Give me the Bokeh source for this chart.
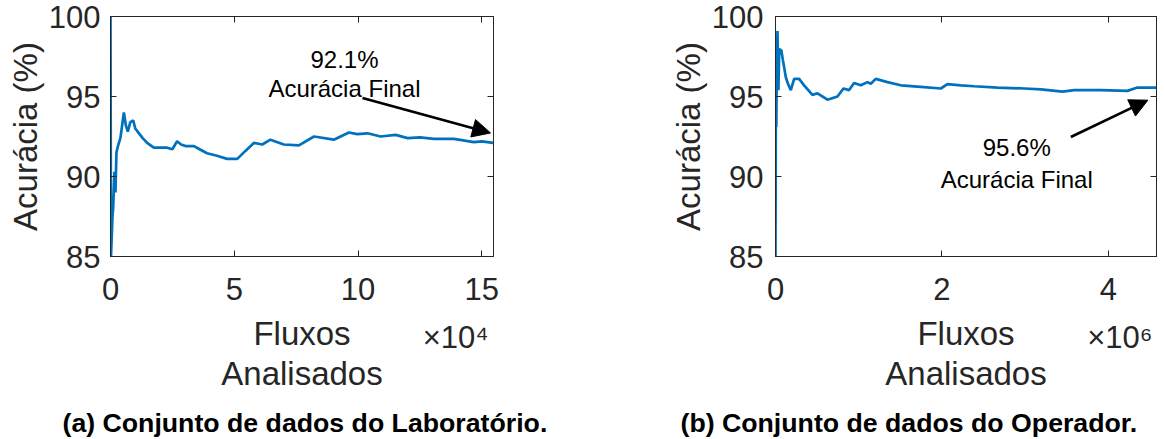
from bokeh.plotting import figure
from bokeh.models import (Range1d, FixedTicker, LinearAxis, Label, Arrow,
                          NormalHead, Title, CustomJSTickFormatter)
from bokeh.layouts import row
from bokeh.embed import file_html
from bokeh.resources import INLINE

# ---- data ----
# (a) Laboratório: fluxos analisados (x10^4) vs acurácia (%)
lab_x = [0, 0.02, 0.08, 0.11, 0.16, 0.2, 0.24, 0.3, 0.4, 0.54,
         0.62, 0.7, 0.8, 0.92, 1.0, 1.15, 1.3, 1.48, 1.75, 2.0,
         2.29, 2.5, 2.69, 2.85, 3.03, 3.37, 3.6, 3.9, 4.3, 4.71,
         5.12, 5.45, 5.79, 6.13, 6.46, 7.0, 7.61, 8.22, 9.02, 9.63,
         9.97, 10.38, 10.91, 11.52, 12.0, 12.5, 13.06, 13.87, 14.68, 15.0,
         15.45]
lab_y = [100, 85, 87.5, 88.1, 90.3, 89.0, 91.5, 91.9, 92.4, 94.0,
         93.2, 92.8, 93.4, 93.5, 93.0, 92.7, 92.4, 92.1, 91.8, 91.8,
         91.8, 91.7, 92.2, 92.0, 91.9, 91.9, 91.7, 91.45, 91.3, 91.1,
         91.1, 91.6, 92.1, 92.0, 92.3, 92.0, 91.95, 92.5, 92.3, 92.75,
         92.65, 92.7, 92.5, 92.6, 92.4, 92.45, 92.35, 92.35, 92.15, 92.2,
         92.1]
lab_xmax = 15.47
lab_xticks = [0, 5, 10, 15]

# (b) Operador: fluxos analisados (x10^6) vs acurácia (%)
op_x = [0, 0.005, 0.01, 0.015, 0.024, 0.035, 0.045, 0.055, 0.07, 0.088,
        0.105, 0.124, 0.15, 0.184, 0.224, 0.284, 0.344, 0.444, 0.505, 0.625,
        0.745, 0.817, 0.885, 0.945, 1.025, 1.106, 1.146, 1.205, 1.346, 1.506,
        1.746, 1.987, 2.067, 2.227, 2.387, 2.67, 2.99, 3.19, 3.45, 3.59,
        3.91, 4.23, 4.35, 4.58]
op_y = [85, 96.6, 93.1, 97.0, 99.1, 95.4, 98.0, 97.9, 97.9, 97.3,
        96.8, 96.2, 95.8, 95.4, 96.1, 96.1, 95.7, 95.1, 95.2, 94.8,
        95.0, 95.5, 95.4, 95.85, 95.7, 95.9, 95.8, 96.1, 95.9, 95.7,
        95.6, 95.5, 95.77, 95.7, 95.64, 95.56, 95.5, 95.44, 95.3, 95.4,
        95.4, 95.35, 95.56, 95.56]
op_xmax = 4.58
op_xticks = [0, 2, 4]

yticks = [85, 90, 95, 100]

FONT = "Liberation Sans"
AX = "#262626"
BLUE = "#0072BD"


def panel(xs, ys, xmax, xticks, width, bl, br, exp_text, exp_x,
          caption, cap_off, final_txt, txt_xy, arrow, ylab_standoff):
    p = figure(width=width, height=439, x_range=Range1d(0, xmax),
               y_range=Range1d(85, 100), output_backend="svg",
               toolbar_location=None, min_border_left=bl, min_border_right=br,
               min_border_top=16, min_border_bottom=182,
               background_fill_color="white", border_fill_color="white")
    p.grid.visible = False
    p.outline_line_color = AX
    p.outline_line_width = 1

    p.xaxis.ticker = FixedTicker(ticks=xticks)
    p.yaxis.ticker = FixedTicker(ticks=yticks)
    for ax in [p.xaxis[0], p.yaxis[0]]:
        ax.major_tick_in = 6
        ax.major_tick_out = 0
        ax.minor_tick_in = 0
        ax.minor_tick_out = 0
        ax.axis_line_color = AX
        ax.major_tick_line_color = AX
        ax.major_label_text_font = FONT
        ax.major_label_text_font_size = "31px"
        ax.major_label_text_color = AX
        ax.axis_label_text_font = FONT
        ax.axis_label_text_font_size = "33px"
        ax.axis_label_text_font_style = "normal"
        ax.axis_label_text_color = AX
    p.yaxis.major_label_standoff = ylab_standoff
    p.yaxis.axis_label = "Acurácia (%)"
    p.yaxis.axis_label_standoff = 2
    p.xaxis.major_label_standoff = 21

    # box ticks on top and right (MATLAB style), no labels
    for loc, tk in (("above", xticks), ("right", yticks)):
        a = LinearAxis(ticker=FixedTicker(ticks=tk), major_tick_in=6,
                       major_tick_out=0, minor_tick_in=0, minor_tick_out=0,
                       formatter=CustomJSTickFormatter(code="return ''"),
                       major_label_text_font_size="1px", major_label_standoff=0,
                       axis_line_color=AX, major_tick_line_color=AX)
        p.add_layout(a, loc)

    # second row below: exponent x10^n and the axis title
    ax2 = LinearAxis(ticker=FixedTicker(ticks=[exp_x]),
                     major_label_overrides={exp_x: exp_text},
                     major_tick_in=0, major_tick_out=0, minor_tick_in=0,
                     minor_tick_out=0, axis_line_color=None,
                     major_label_standoff=17,
                     major_label_text_font=FONT,
                     major_label_text_font_size="31px",
                     major_label_text_color=AX,
                     axis_label="Fluxos\nAnalisados",
                     axis_label_standoff=-43,
                     axis_label_text_font=FONT,
                     axis_label_text_font_size="33px",
                     axis_label_text_font_style="normal",
                     axis_label_text_line_height=1.1,
                     axis_label_text_color=AX)
    p.add_layout(ax2, "below")

    # invisible spacer between the axis title and the caption
    spacer = LinearAxis(ticker=FixedTicker(ticks=[exp_x]), major_tick_in=0,
                        major_tick_out=12, minor_tick_in=0, minor_tick_out=0,
                        major_tick_line_color=None, axis_line_color=None,
                        formatter=CustomJSTickFormatter(code="return ''"),
                        major_label_standoff=0,
                        major_label_text_font_size="1px")
    p.add_layout(spacer, "below")

    # caption
    p.add_layout(Title(text=caption, align="left", offset=cap_off,
                       vertical_align="top", standoff=0,
                       text_font=FONT, text_font_size="26.7px",
                       text_font_style="bold", text_color="black"), "below")

    p.line(xs, ys, line_color=BLUE, line_width=2.7)

    # annotation
    tx, ty1, ty2 = txt_xy
    p.add_layout(Label(x=tx, y=ty1, text=final_txt, text_font=FONT,
                       text_font_size="24px", text_color="black",
                       text_align="center", text_baseline="alphabetic"))
    p.add_layout(Label(x=tx, y=ty2, text="Acurácia Final", text_font=FONT,
                       text_font_size="24px", text_color="black",
                       text_align="center", text_baseline="alphabetic"))
    x0, y0, x1, y1 = arrow
    p.add_layout(Arrow(end=NormalHead(size=18, fill_color="black",
                                      line_color="black", line_width=1),
                       x_start=x0, y_start=y0, x_end=x1, y_end=y1,
                       line_color="black", line_width=2.6))
    return p


left = panel(lab_x, lab_y, lab_xmax, lab_xticks, 640, 110, 147,
             "×10⁴", 13.94,
             "(a) Conjunto de dados do Laboratório.", -48,
             "92.1%", (9.45, 97.32, 95.52), (10.18, 94.9, 15.35, 92.72), 10)
right = panel(op_x, op_y, op_xmax, op_xticks, 525, 135, 9,
              "×10⁶", 4.14,
              "(b) Conjunto de dados do Operador.", -95,
              "95.6%", (2.9, 91.79, 89.79), (3.55, 92.47, 4.476, 94.77), 12)

layout = row(left, right, spacing=0)
open("out.html", "w").write(file_html(layout, INLINE))
